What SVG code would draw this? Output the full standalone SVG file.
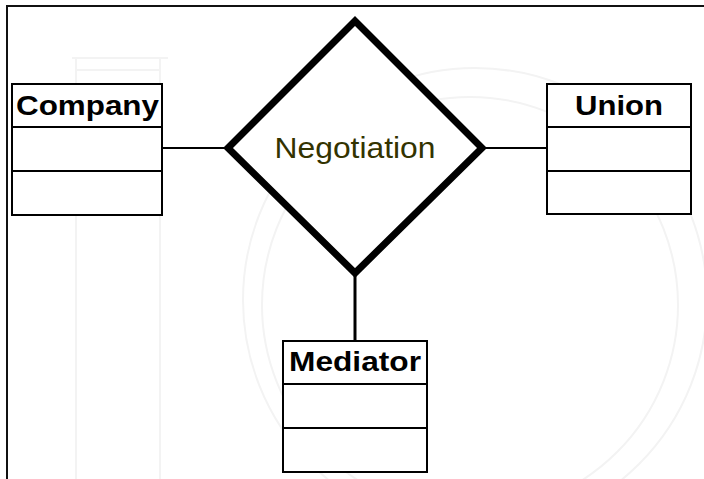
<svg xmlns="http://www.w3.org/2000/svg" width="704" height="479" viewBox="0 0 704 479">
  <style>
    .frame { fill: none; stroke: #111; stroke-width: 2; }
    .box { fill: #fff; stroke: #000; stroke-width: 2; }
    .div { stroke: #000; stroke-width: 2; }
    .title { font-family: "Liberation Sans", Arial, sans-serif; font-weight: bold; font-size: 28px; fill: #000; text-anchor: middle; }
    .rel { fill: #fff; stroke: #000; stroke-width: 7; stroke-linejoin: miter; }
    .rel-label { font-family: "Liberation Sans", Arial, sans-serif; font-size: 30px; fill: #333300; text-anchor: middle; }
    .link { stroke: #000; fill: none; }
    .mark { fill: none; stroke: #f3f3f3; stroke-width: 2; }
  </style>

  <rect width="704" height="479" fill="#fff"/>

  <!-- faint background emblem -->
  <g id="emblem">
    <path class="mark" d="M72 58 H168 M76 58 V479 M160 58 V479 M76 70 H160"/>
    <circle class="mark" cx="475" cy="300" r="232"/>
    <circle class="mark" cx="470" cy="305" r="208"/>
  </g>

  <!-- page frame -->
  <path class="frame" d="M7 479 V6 H704"/>

  <g id="connectors">
    <line class="link" x1="162" y1="148" x2="224" y2="148" stroke-width="2"/>
    <line class="link" x1="486" y1="148" x2="547" y2="148" stroke-width="2"/>
    <line class="link" x1="355" y1="276" x2="355" y2="341" stroke-width="3"/>
  </g>

  <g id="negotiation">
    <polygon class="rel" points="355,21 482,148 355,273 228,148"/>
    <text class="rel-label" x="355" y="158" textLength="161" lengthAdjust="spacingAndGlyphs">Negotiation</text>
  </g>

  <g id="company">
    <rect class="box" x="12" y="84" width="150" height="131"/>
    <line class="div" x1="12" y1="127" x2="162" y2="127"/>
    <line class="div" x1="12" y1="171" x2="162" y2="171"/>
    <text class="title" x="87.5" y="115" textLength="143" lengthAdjust="spacingAndGlyphs">Company</text>
  </g>

  <g id="union">
    <rect class="box" x="547" y="84" width="144" height="130"/>
    <line class="div" x1="547" y1="127" x2="691" y2="127"/>
    <line class="div" x1="547" y1="171" x2="691" y2="171"/>
    <text class="title" x="619" y="115" textLength="88" lengthAdjust="spacingAndGlyphs">Union</text>
  </g>

  <g id="mediator">
    <rect class="box" x="283" y="341" width="144" height="131"/>
    <line class="div" x1="283" y1="384" x2="427" y2="384"/>
    <line class="div" x1="283" y1="428" x2="427" y2="428"/>
    <text class="title" x="355" y="371" textLength="132" lengthAdjust="spacingAndGlyphs">Mediator</text>
  </g>
</svg>
